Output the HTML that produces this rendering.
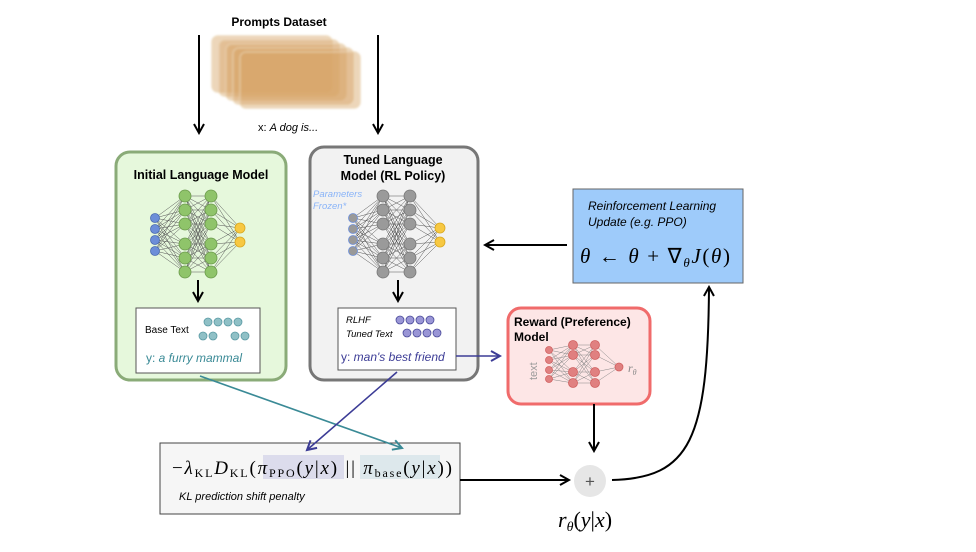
<!DOCTYPE html>
<html><head><meta charset="utf-8"><style>
html,body{margin:0;padding:0;background:#fff;width:976px;height:552px;overflow:hidden}
svg{display:block;font-family:"Liberation Sans",sans-serif}
.m{font-family:"Liberation Serif",serif;font-style:italic}
</style></head><body>
<svg id="s" width="976" height="552" viewBox="0 0 976 552">
<defs>
<marker id="ak" markerWidth="12" markerHeight="12" refX="10" refY="6" orient="auto" markerUnits="userSpaceOnUse"><path d="M1,1 L10,6 L1,11" fill="none" stroke="#000" stroke-width="2"/></marker>
<marker id="at" markerWidth="12" markerHeight="12" refX="10" refY="6" orient="auto" markerUnits="userSpaceOnUse"><path d="M1,1 L10,6 L1,11" fill="none" stroke="#3a8a96" stroke-width="2"/></marker>
<marker id="ap" markerWidth="12" markerHeight="12" refX="10" refY="6" orient="auto" markerUnits="userSpaceOnUse"><path d="M1,1 L10,6 L1,11" fill="none" stroke="#3c3c96" stroke-width="2"/></marker>
<filter id="bl"><feGaussianBlur stdDeviation="1"/></filter>
</defs>
<text x="279" y="26" text-anchor="middle" font-size="12" font-weight="bold">Prompts Dataset</text>
<g filter="url(#bl)" fill="#d6a465" fill-opacity="0.45" stroke="#e8cfa8" stroke-width="1">
<rect x="212" y="36" width="120" height="56" rx="6"/><rect x="219" y="40" width="120" height="56" rx="6"/><rect x="226" y="44" width="120" height="56" rx="6"/><rect x="233" y="48" width="120" height="56" rx="6"/><rect x="240" y="52" width="120" height="56" rx="6"/>
</g>
<line x1="199" y1="35" x2="199" y2="133" stroke="#000" stroke-width="2" marker-end="url(#ak)"/>
<line x1="378" y1="35" x2="378" y2="133" stroke="#000" stroke-width="2" marker-end="url(#ak)"/>
<text x="258" y="131" font-size="11">x: <tspan font-style="italic">A dog is...</tspan></text>

<rect x="116" y="152" width="170" height="228" rx="14" fill="#e6f8dc" stroke="#8aab78" stroke-width="3"/>
<text x="201" y="179" text-anchor="middle" font-size="12.5" font-weight="bold">Initial Language Model</text>
<g id="n1"></g>
<line x1="198" y1="280" x2="198" y2="301" stroke="#000" stroke-width="2" marker-end="url(#ak)"/>
<rect x="136" y="308" width="124" height="65" fill="#fff" stroke="#555"/>
<text x="145" y="333" font-size="10">Base Text</text>
<g fill="#8fc0c6" stroke="#5a9aa4" stroke-width="0.8"><circle cx="208" cy="322" r="4"/><circle cx="218" cy="322" r="4"/><circle cx="228" cy="322" r="4"/><circle cx="238" cy="322" r="4"/><circle cx="203" cy="336" r="4"/><circle cx="213" cy="336" r="4"/><circle cx="235" cy="336" r="4"/><circle cx="245" cy="336" r="4"/></g>
<text x="146" y="362" font-size="12" fill="#3a8a96">y: <tspan font-style="italic">a furry mammal</tspan></text>

<rect x="310" y="147" width="168" height="233" rx="14" fill="#f2f2f2" stroke="#777" stroke-width="3"/>
<text x="393" y="164" text-anchor="middle" font-size="12.5" font-weight="bold">Tuned Language</text>
<text x="393" y="180" text-anchor="middle" font-size="12.5" font-weight="bold">Model (RL Policy)</text>
<text x="313" y="197" font-size="9.5" font-style="italic" fill="#8ab4f8">Parameters</text>
<text x="313" y="209" font-size="9.5" font-style="italic" fill="#8ab4f8">Frozen*</text>
<g id="n2"></g>
<line x1="398" y1="280" x2="398" y2="301" stroke="#000" stroke-width="2" marker-end="url(#ak)"/>
<rect x="338" y="308" width="118" height="62" fill="#fff" stroke="#555"/>
<text x="346" y="323" font-size="9.5" font-style="italic">RLHF</text>
<text x="346" y="337" font-size="9.5" font-style="italic">Tuned Text</text>
<g fill="#9a96d6" stroke="#4a4a9a" stroke-width="0.8"><circle cx="400" cy="320" r="4"/><circle cx="410" cy="320" r="4"/><circle cx="420" cy="320" r="4"/><circle cx="430" cy="320" r="4"/><circle cx="407" cy="333" r="4"/><circle cx="417" cy="333" r="4"/><circle cx="427" cy="333" r="4"/><circle cx="437" cy="333" r="4"/></g>
<text x="341" y="361" font-size="12" fill="#3c3c96">y: <tspan font-style="italic">man's best friend</tspan></text>

<rect x="573" y="189" width="170" height="94" fill="#9ecbfa" stroke="#666"/>
<text x="588" y="210" font-size="12" font-style="italic">Reinforcement Learning</text>
<text x="588" y="226" font-size="12" font-style="italic">Update (e.g. PPO)</text>
<text x="580" y="263" font-size="21" class="m" textLength="150" lengthAdjust="spacing">θ <tspan font-style="normal">←</tspan> θ <tspan font-style="normal">+ ∇</tspan><tspan font-size="13" dy="4">θ</tspan><tspan dy="-4">J</tspan><tspan font-style="normal">(</tspan>θ<tspan font-style="normal">)</tspan></text>
<line x1="567" y1="245" x2="485" y2="245" stroke="#000" stroke-width="2" marker-end="url(#ak)"/>

<rect x="508" y="308" width="142" height="96" rx="13" fill="#fde6e6" stroke="#f06b6b" stroke-width="3"/>
<text x="514" y="326" font-size="12" font-weight="bold">Reward (Preference)</text>
<text x="514" y="341" font-size="12" font-weight="bold">Model</text>
<text x="0" y="0" font-size="11" fill="#999" transform="translate(537,380) rotate(-90)">text</text>
<g id="n3"></g>
<text x="628" y="372" font-size="12" class="m" fill="#888">r<tspan font-size="8" dy="3">θ</tspan></text>
<line x1="456" y1="356" x2="500" y2="356" stroke="#3c3c96" stroke-width="1.5" marker-end="url(#ap)"/>

<rect x="160" y="443" width="300" height="71" fill="#f6f6f6" stroke="#444"/>
<rect x="263" y="455" width="81" height="24" fill="#dcdcec"/>
<rect x="360" y="455" width="80" height="24" fill="#dde8ec"/>
<text x="172" y="474" font-size="19" class="m" textLength="280" lengthAdjust="spacing"><tspan font-style="normal">−</tspan>λ<tspan font-size="12" font-style="normal" dy="3">KL</tspan><tspan dy="-3">D</tspan><tspan font-size="12" font-style="normal" dy="3">KL</tspan><tspan dy="-3" font-style="normal">(</tspan>π<tspan font-size="12" font-style="normal" dy="3">PPO</tspan><tspan dy="-3" font-style="normal">(</tspan>y<tspan font-style="normal">|</tspan>x<tspan font-style="normal">) || </tspan>π<tspan font-size="12" font-style="normal" dy="3">base</tspan><tspan dy="-3" font-style="normal">(</tspan>y<tspan font-style="normal">|</tspan>x<tspan font-style="normal">))</tspan></text>
<text x="179" y="500" font-size="11" font-style="italic">KL prediction shift penalty</text>

<line x1="200" y1="376" x2="402" y2="448" stroke="#3a8a96" stroke-width="1.6" marker-end="url(#at)"/>
<line x1="397" y1="372" x2="307" y2="450" stroke="#3c3c96" stroke-width="1.6" marker-end="url(#ap)"/>

<line x1="594" y1="404" x2="594" y2="451" stroke="#000" stroke-width="2" marker-end="url(#ak)"/>
<line x1="460" y1="480" x2="569" y2="480" stroke="#000" stroke-width="2" marker-end="url(#ak)"/>
<circle cx="590" cy="481" r="16" fill="#e6e6e6"/>
<text x="590" y="487" text-anchor="middle" font-size="17" fill="#555">+</text>
<path d="M612 480 C690 478 708 440 709 287" fill="none" stroke="#000" stroke-width="2" marker-end="url(#ak)"/>
<text x="558" y="527" font-size="22" class="m">r<tspan font-size="14" dy="4">θ</tspan><tspan dy="-4" font-style="normal">(</tspan>y<tspan font-style="normal">|</tspan>x<tspan font-style="normal">)</tspan></text>
</svg>
<script>
function net(id,L,col,str){
 var g=document.getElementById(id),h="";
 for(var i=0;i<L.length-1;i++)for(var a of L[i].ys)for(var b of L[i+1].ys)
  h+='<line x1="'+L[i].x+'" y1="'+a+'" x2="'+L[i+1].x+'" y2="'+b+'" stroke="'+str+'" stroke-width="0.5"/>';
 L.forEach(function(l){l.ys.forEach(function(y){h+='<circle cx="'+l.x+'" cy="'+y+'" r="'+l.r+'" fill="'+l.c+'" stroke="'+l.s+'" stroke-width="0.8"/>';});});
 g.innerHTML=h;
}
var H=[196,210,224,244,258,272];
net("n1",[{x:155,ys:[218,229,240,251],r:4.5,c:"#6c8ed8",s:"#4a6ab0"},{x:185,ys:H,r:6,c:"#8fc46a",s:"#6a9a4a"},{x:211,ys:H,r:6,c:"#8fc46a",s:"#6a9a4a"},{x:240,ys:[228,242],r:5,c:"#f7c842",s:"#d9a820"}],"#8fc46a","#555");
net("n2",[{x:353,ys:[218,229,240,251],r:4.5,c:"#999",s:"#6c8ed8"},{x:383,ys:H,r:6,c:"#9a9a9a",s:"#777"},{x:410,ys:H,r:6,c:"#9a9a9a",s:"#777"},{x:440,ys:[228,242],r:5,c:"#f7c842",s:"#d9a820"}],"","#555");
net("n3",[{x:549,ys:[350,360,370,379],r:3.5,c:"#e08080",s:"#d06060"},{x:573,ys:[345,355,372,383],r:4.5,c:"#e08080",s:"#d06060"},{x:595,ys:[345,355,372,383],r:4.5,c:"#e08080",s:"#d06060"},{x:619,ys:[367],r:4,c:"#e08080",s:"#d06060"}],"","#888");
</script>
</body></html>
